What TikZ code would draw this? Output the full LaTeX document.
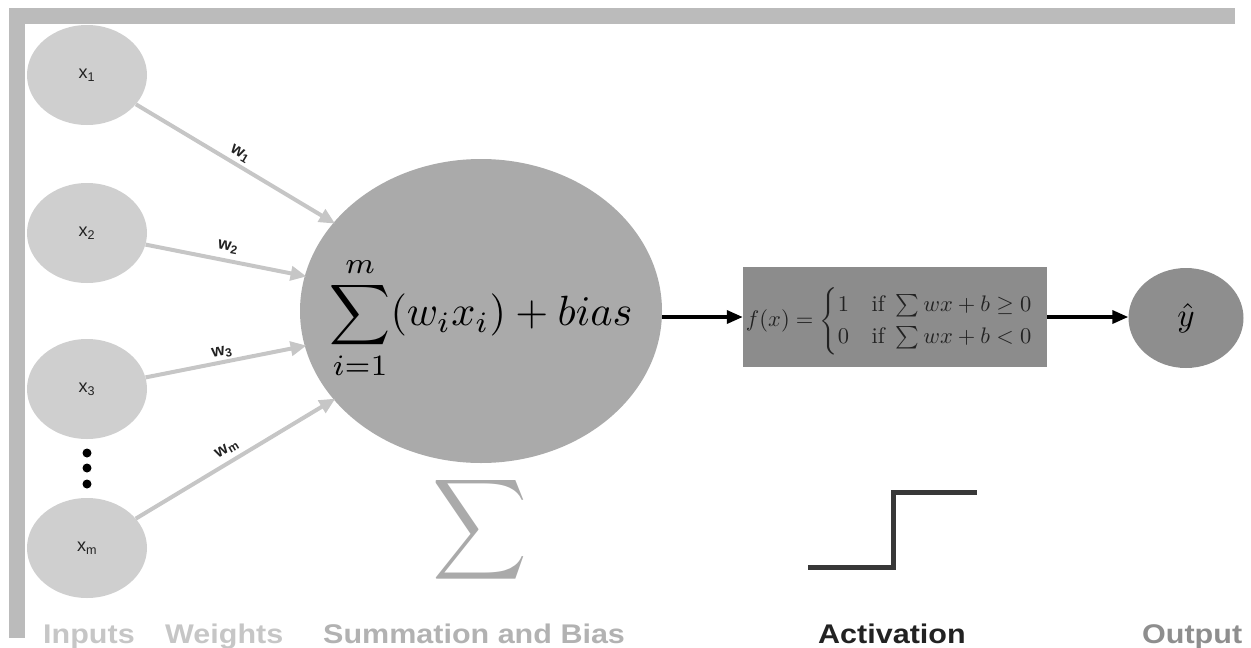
\documentclass[tikz,border=0pt]{standalone}
\usepackage{fontspec}
\usepackage{amsmath}
\usepackage{graphicx}
\usetikzlibrary{shapes.geometric,arrows.meta}
\newfontfamily\sansf{Liberation Sans}
\definecolor{framegray}{HTML}{BBBBBB}
\definecolor{infill}{HTML}{CFCFCF}
\definecolor{sumfill}{HTML}{AAAAAA}
\definecolor{actfill}{HTML}{8C8C8C}
\definecolor{outfill}{HTML}{8E8E8E}
\definecolor{wgray}{HTML}{C6C6C6}
\definecolor{darktext}{HTML}{222222}
\tikzset{
  inputnode/.style={ellipse, fill=infill, minimum width=120pt, minimum height=100pt, inner sep=0pt,
    font=\sansf\fontsize{18}{18}\selectfont, text=darktext},
  warrow/.style={draw=wgray, line width=4pt, -{Triangle[length=16pt,width=14pt]}, shorten >=-2pt},
  blackarrow/.style={draw=black, line width=3.5pt, -{Triangle[length=16pt,width=13pt]}},
  wlabel/.style={font=\sansf\bfseries\fontsize{17}{17}\selectfont, text=darktext, inner sep=1pt},
  bottomlabel/.style={anchor=base west, inner sep=0pt, font=\sansf\bfseries\fontsize{27}{27}\selectfont},
}
\begin{document}
\begin{tikzpicture}[x=1pt,y=-1pt]
\useasboundingbox (0,0) rectangle (1251,648);
% frame
\fill[framegray] (9,8) rectangle (1235,24);
\fill[framegray] (9,8) rectangle (25,638);
% inputs
\node[inputnode] (x1) at (87,75) {x\textsubscript{1}};
\node[inputnode] (x2) at (87,233) {x\textsubscript{2}};
\node[inputnode] (x3) at (87,389) {x\textsubscript{3}};
\node[inputnode] (xm) at (87,548) {x\textsubscript{m}};
\fill[black] (87,453) circle (4.5pt) (87,468) circle (4.5pt) (87,484) circle (4.5pt);
% summation node
\node[ellipse, fill=sumfill, minimum width=362pt, minimum height=304pt, inner sep=0pt] (sum) at (481,311) {};
\node[inner sep=0pt] (sumtext) at (481,318) {\resizebox{303pt}{!}{$\displaystyle\sum_{i=1}^{m}(w_ix_i)+bias$}};
% weight arrows
\draw[warrow] (x1) -- (sum);
\draw[warrow] (x2) -- (sum);
\draw[warrow] (x3) -- (sum);
\draw[warrow] (xm) -- (sum);
\node[wlabel, rotate=-31] (w1) at (240,154) {w\textsubscript{1}};
\node[wlabel, rotate=-11] (w2) at (228,247) {w\textsubscript{2}};
\node[wlabel, rotate=11] (w3) at (222,352) {w\textsubscript{3}};
\node[wlabel, rotate=31] (wm) at (227,449) {w\textsubscript{m}};
% activation box
\node[rectangle, fill=actfill, minimum width=304pt, minimum height=100pt, inner sep=0pt] (act) at (895,317) {};
\node[inner sep=0pt, text=darktext] (acttext) at (890,321) {\resizebox{288pt}{!}{$f(x)=\begin{cases}1 & \text{if }\sum wx+b\geq 0\\ 0 & \text{if }\sum wx+b<0\end{cases}$}};
% output
\node[ellipse, fill=outfill, minimum width=115pt, minimum height=100pt, inner sep=0pt] (out) at (1186,318) {\scalebox{3.3}{$\hat{y}$}};
% black arrows
\draw[blackarrow] (sum.east |- act.west) -- (act.west);
\draw[blackarrow] (act.east) -- (out.west |- act.east);
% big sigma
\node[inner sep=0pt, text=sumfill] (sigma) at (480,530) {\resizebox{95pt}{74pt}{$\displaystyle\sum$}};
% step function
\draw[line width=5pt, color=darktext!90] (808,567) -- (893,567) -- (893,492) -- (977,492);
% bottom labels
\node[bottomlabel, text=wgray] (linputs) at (43,643) {\scalebox{1.13}[1]{Inputs}};
\node[bottomlabel, text=wgray] (lweights) at (165,643) {\scalebox{1.13}[1]{Weights}};
\node[bottomlabel, text=framegray!95!black] (lsum) at (323,643) {\scalebox{1.13}[1]{Summation and Bias}};
\node[bottomlabel, text=darktext] (lact) at (818,643) {\scalebox{1.13}[1]{Activation}};
\node[bottomlabel, text=outfill] (lout) at (1142,643) {\scalebox{1.13}[1]{Output}};
\end{tikzpicture}
\end{document}
